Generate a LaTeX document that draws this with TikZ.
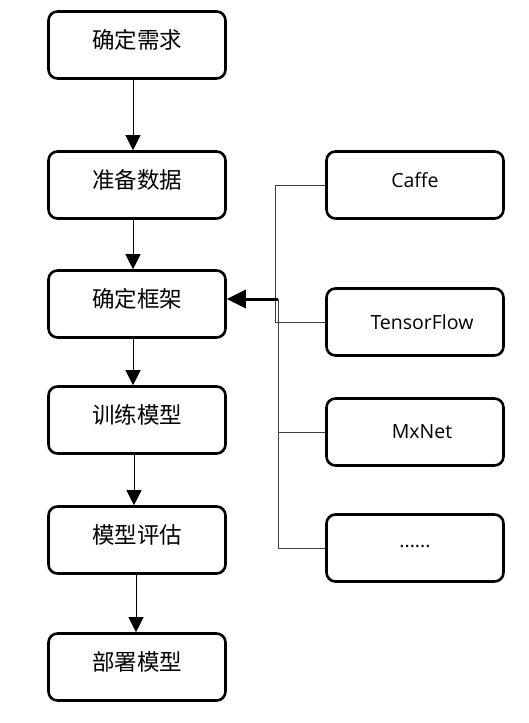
\documentclass[tikz,border=0pt]{standalone}
\usepackage{fontspec}
\newfontfamily\cjk{Noto Sans CJK SC}
\newfontfamily\lat{Open Sans}
\usetikzlibrary{arrows.meta}
\begin{document}
\begin{tikzpicture}[x=1pt,y=-1pt,
  box/.style={draw,line width=2.6pt,rounded corners=9pt,minimum width=177pt,minimum height=67pt,inner sep=0pt},
  cn/.style={box,font=\cjk\fontsize{22.5}{23}\selectfont,text height=17pt,text depth=10pt},
  en/.style={box,font=\lat\fontsize{19.5}{20}\selectfont},
  enup/.style={en,text height=15pt,text depth=10pt},
  flow/.style={line width=1pt,-{Triangle[length=15pt,width=15pt]}},
  bold/.style={line width=3pt,-{Triangle[length=19pt,width=18pt]}},
  thin/.style={line width=0.9pt,black!75}]
\fill[white] (0,0) rectangle (529,723);
\useasboundingbox (0,0) rectangle (529,723);
% left column
\node[cn] (b1) at (137,45)  {确定需求};
\node[cn] (b2) at (137,185) {准备数据};
\node[cn] (b3) at (137,304) {确定框架};
\node[cn] (b4) at (137,420) {训练模型};
\node[cn] (b5) at (137,540) {模型评估};
\node[cn] (b6) at (137,667) {部署模型};
% right column
\node[enup] (caffe) at (415,185) {Caffe};
\node[en] (tf)    at (415,322) {\hspace{14pt}TensorFlow};
\node[en] (mx)    at (415,432) {\hspace{14pt}MxNet};
\node[en,text height=14pt,text depth=16pt] (more)  at (415,548) {......};
% flow arrows
\draw[flow] ([xshift=-4pt]b1.south) -- ([xshift=-4pt]b2.north);
\draw[flow] ([xshift=-4pt]b2.south) -- ([xshift=-4pt]b3.north);
\draw[flow] ([xshift=-4pt]b3.south) -- ([xshift=-4pt]b4.north);
\draw[flow] ([xshift=-3pt]b4.south) -- ([xshift=-3pt]b5.north);
\draw[flow] ([xshift=-1pt]b5.south) -- ([xshift=-1pt]b6.north);
% bracket
\coordinate (ja) at (275,185);
\coordinate (jb) at (278,299);
\draw[thin] (caffe.west) -- (caffe.west -| ja) |- (tf.west);
\draw[thin] (jb) |- (more.west);
\draw[thin] (mx.west -| jb) -- (mx.west);
\draw[bold] (jb) -- (jb -| b3.east);
\end{tikzpicture}
\end{document}
